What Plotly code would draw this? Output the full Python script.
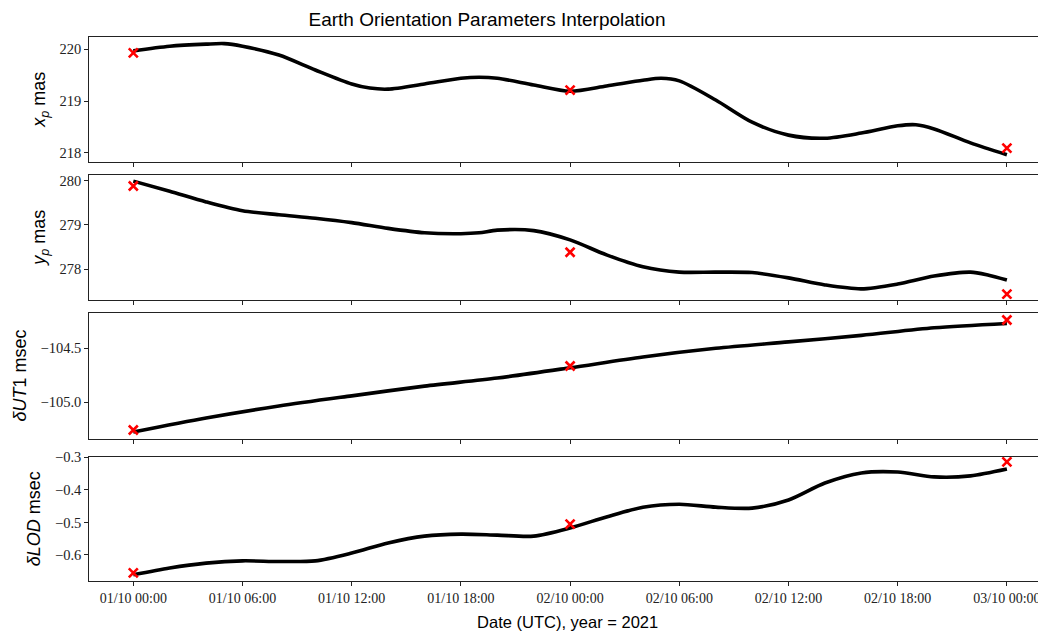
import datetime as dt
import plotly.graph_objects as go
from plotly.subplots import make_subplots

# ---------------- data ----------------
base = dt.datetime(2021, 10, 1, 0, 0)

# interpolated curve samples (hours since 2021-10-01 00:00)
curve_hours = [0, 2, 4, 5, 6, 8, 10, 12, 13, 14, 16, 18, 19, 20, 22, 24,
               26, 28, 29, 30, 32, 34, 36, 38, 40, 42, 43, 44, 46, 48]
xp_curve = [219.97, 220.06, 220.10, 220.11, 220.06, 219.89, 219.60, 219.33, 219.25, 219.23,
            219.33, 219.44, 219.46, 219.44, 219.31, 219.19, 219.29, 219.40, 219.44, 219.39,
            219.02, 218.59, 218.34, 218.28, 218.38, 218.52, 218.54, 218.46, 218.19, 217.96]

yp_hours = [0, 2, 4, 6, 8, 10, 12, 14, 16, 18, 19, 20, 22, 24, 26, 28, 30, 32, 34,
            36, 38, 40, 42, 44, 46, 47, 48]
yp_curve = [279.99, 279.76, 279.52, 279.32, 279.23, 279.15, 279.05, 278.92, 278.82, 278.80,
            278.82, 278.88, 278.87, 278.66, 278.32, 278.05, 277.93, 277.93, 277.92,
            277.80, 277.64, 277.55, 277.66, 277.84, 277.93, 277.86, 277.75]

ut1_hours = [0, 4, 8, 12, 16, 20, 24, 28, 32, 36, 40, 44, 48]
ut1_curve = [-105.275, -105.145, -105.034, -104.94, -104.85, -104.775, -104.68,
             -104.58, -104.50, -104.44, -104.38, -104.31, -104.27]

lod_hours = [0, 2, 4, 6, 8, 10, 12, 14, 16, 18, 20, 22, 24, 26, 28, 30, 32, 34,
             36, 38, 40, 42, 44, 46, 48]
lod_curve = [-0.661, -0.640, -0.625, -0.618, -0.620, -0.618, -0.594, -0.563, -0.542,
             -0.536, -0.539, -0.542, -0.517, -0.483, -0.453, -0.444, -0.453, -0.456,
             -0.431, -0.379, -0.348, -0.345, -0.360, -0.357, -0.336]

# tabulated EOP values (red crosses)
obs_hours = [0, 24, 48]
xp_obs = [219.93, 219.21, 218.09]
yp_obs = [279.88, 278.38, 277.43]
ut1_obs = [-105.256, -104.664, -104.238]
lod_obs = [-0.655, -0.505, -0.314]

tick_hours = [0, 6, 12, 18, 24, 30, 36, 42, 48]

xp_ticks = [218, 219, 220]
yp_ticks = [278, 279, 280]
ut1_ticks = [-105.0, -104.5]
lod_ticks = [-0.6, -0.5, -0.4, -0.3]

panels = [
    (curve_hours, xp_curve, xp_obs, "<i>x</i><sub><i>p</i></sub> mas", [217.826, 220.244], xp_ticks, "d"),
    (yp_hours, yp_curve, yp_obs, "<i>y</i><sub><i>p</i></sub> mas", [277.31, 280.129], yp_ticks, "d"),
    (ut1_hours, ut1_curve, ut1_obs, "<i>δUT</i>1 msec", [-105.335, -104.17], ut1_ticks, ".1f"),
    (lod_hours, lod_curve, lod_obs, "<i>δLOD</i> msec", [-0.679, -0.298], lod_ticks, ".1f"),
]

# ---------------- figure ----------------
OFF = 8  # page body margin offset
W, H = 1046 - OFF, 633 - OFF


def T(h):
    return base + dt.timedelta(hours=h)


fig = make_subplots(rows=4, cols=1, shared_xaxes=True)

# pixel extents of panels in the target picture (top, bottom)
pix = [(36.7, 161.7), (175.0, 299.5), (312.7, 438.5), (456.7, 580.7)]
left_px = 89.3
tick0_px = 133.3
px_per_h = 18.2
x0 = T(-(tick0_px - left_px) / px_per_h)
x1 = T((1046 - tick0_px) / px_per_h)

serif = "Liberation Serif"
sans = "Liberation Sans"

for i, (hrs, cur, obs, lab, yr, ytv, yfmt) in enumerate(panels):
    r = i + 1
    fig.add_trace(go.Scatter(x=[T(h) for h in hrs], y=cur, mode="lines",
                             line=dict(color="black", width=3.6, shape="spline", smoothing=0.8),
                             showlegend=False, hoverinfo="skip"), row=r, col=1)
    fig.add_trace(go.Scatter(x=[T(h) for h in obs_hours], y=obs, mode="markers",
                             marker=dict(symbol="x-thin", size=9, color="red",
                                         line=dict(color="red", width=2.6)),
                             showlegend=False), row=r, col=1)
    top, bot = pix[i]
    ax = "yaxis" if r == 1 else f"yaxis{r}"
    xa = "xaxis" if r == 1 else f"xaxis{r}"
    fig.layout[ax].update(
        domain=[1 - (bot - OFF) / H, 1 - (top - OFF) / H], range=yr, tickvals=ytv, tickformat=yfmt,
        showline=True, linecolor="#222", linewidth=1.1, mirror=False,
        ticks="outside", ticklen=4, tickcolor="#222", tickwidth=1,
        showgrid=False, zeroline=False,
        tickfont=dict(family=serif, size=14.5, color="#222"),
        title=dict(text=lab, font=dict(family=sans, size=18, color="black"), standoff=9),
        automargin=False)
    fig.layout[xa].update(
        domain=[(left_px - OFF) / W, 1], range=[x0, x1], type="date",
        tickvals=[T(h) for h in tick_hours], tickformat="%d/%m %H:%M",
        showline=True, linecolor="#222", linewidth=1.1, mirror=True,
        ticks="outside", ticklen=4, tickcolor="#222", tickwidth=1,
        showgrid=False, zeroline=False,
        showticklabels=(r == 4),
        tickfont=dict(family=serif, size=14, color="#222"),
        automargin=False)

fig.layout.xaxis4.title = dict(text="Date (UTC), year = 2021",
                               font=dict(family=sans, size=16.5, color="black"), standoff=11)

fig.update_layout(
    width=W, height=H,
    margin=dict(l=0, r=0, t=0, b=0),
    paper_bgcolor="white", plot_bgcolor="white",
    title=dict(text="Earth Orientation Parameters Interpolation", x=(487 - OFF) / W, xanchor="center",
               y=1 - 11 / H, yanchor="middle", font=dict(family=sans, size=19, color="black")),
)

fig.write_html("out.html")
